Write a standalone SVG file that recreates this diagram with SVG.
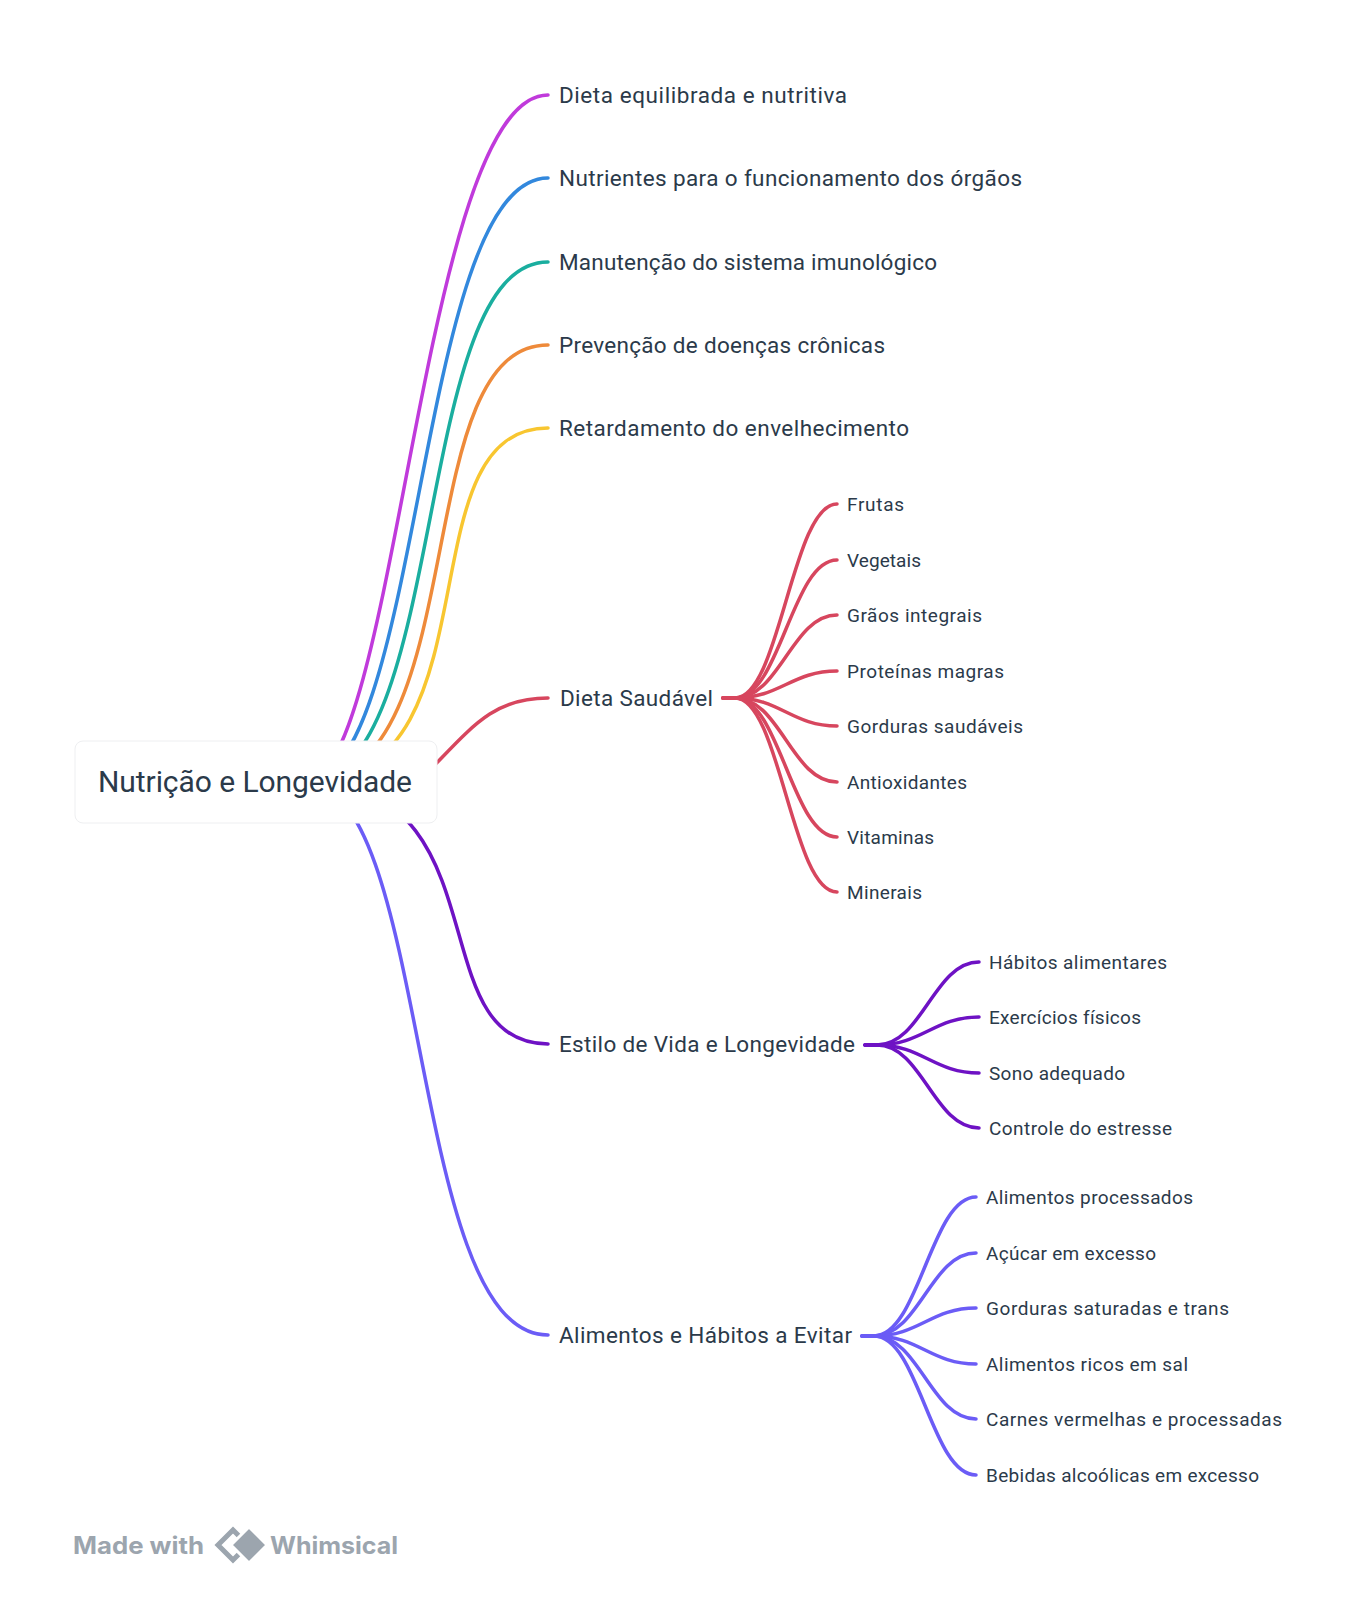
<svg xmlns="http://www.w3.org/2000/svg" width="1368" height="1600" viewBox="0 0 1368 1600">
<style>
.c{fill:none;stroke-width:3.5;stroke-linecap:round;stroke-linejoin:round}
.t{font-family:Roboto,"Noto Sans",sans-serif;fill:#2B3A4A}
.root{font-size:30px}
.m{font-size:22.5px}
.s{font-size:19px}
.logo{font-family:Inter,"Liberation Sans",sans-serif;font-weight:700;font-size:24px;fill:#9CA5AE}
</style>
<rect width="1368" height="1600" fill="#ffffff"/>
<g id="connectors">
<path class="c" stroke="#C03ADB" d="M305 782 C397.5 782 421 95 548 95"/>
<path class="c" stroke="#3288DD" d="M305 782 C423.5 782 416 178 548 178"/>
<path class="c" stroke="#1AAE9F" d="M305 782 C450 782 410.5 262 548 262"/>
<path class="c" stroke="#EE8A3A" d="M305 782 C476.5 782 405.25 345 548 345"/>
<path class="c" stroke="#F8C630" d="M305 782 C503 782 400 428 548 428"/>
<path class="c" stroke="#D7465E" d="M420 780 C470 730 490 698 548 698"/>
<path class="c" stroke="#6E12C4" d="M305 782 C505 782 418 1044 548 1044"/>
<path class="c" stroke="#6B5CF6" d="M305 782 C432 782 407 1335 548 1335"/>
<g stroke="#D7465E">
<path class="c" d="M723 698 H735 C780 698 792 504 837 504"/>
<path class="c" d="M723 698 H735 C780 698 792 560 837 560"/>
<path class="c" d="M723 698 H735 C780 698 792 615 837 615"/>
<path class="c" d="M723 698 H735 C780 698 792 671 837 671"/>
<path class="c" d="M723 698 H735 C780 698 792 726 837 726"/>
<path class="c" d="M723 698 H735 C780 698 792 782 837 782"/>
<path class="c" d="M723 698 H735 C780 698 792 837 837 837"/>
<path class="c" d="M723 698 H735 C780 698 792 892 837 892"/>
</g>
<g stroke="#6E12C4">
<path class="c" d="M865 1045 H877 C922 1045 934 962 979 962"/>
<path class="c" d="M865 1045 H877 C922 1045 934 1017 979 1017"/>
<path class="c" d="M865 1045 H877 C922 1045 934 1073 979 1073"/>
<path class="c" d="M865 1045 H877 C922 1045 934 1128 979 1128"/>
</g>
<g stroke="#6B5CF6">
<path class="c" d="M862 1336 H874 C919 1336 931 1197 976 1197"/>
<path class="c" d="M862 1336 H874 C919 1336 931 1253 976 1253"/>
<path class="c" d="M862 1336 H874 C919 1336 931 1308 976 1308"/>
<path class="c" d="M862 1336 H874 C919 1336 931 1364 976 1364"/>
<path class="c" d="M862 1336 H874 C919 1336 931 1419 976 1419"/>
<path class="c" d="M862 1336 H874 C919 1336 931 1475 976 1475"/>
</g>
</g>
<g id="root">
<rect x="75" y="741" width="362" height="82" rx="8" fill="#ffffff" stroke="#eeeff1" stroke-width="1"/>
<text class="t root" x="98" y="792" textLength="314" lengthAdjust="spacing">Nutrição e Longevidade</text>
</g>
<g id="n-dieta-equilibrada"><text class="t m" x="559" y="103" textLength="288" lengthAdjust="spacing">Dieta equilibrada e nutritiva</text></g>
<g id="n-nutrientes"><text class="t m" x="559" y="186" textLength="463" lengthAdjust="spacing">Nutrientes para o funcionamento dos órgãos</text></g>
<g id="n-manutencao"><text class="t m" x="559" y="270" textLength="378" lengthAdjust="spacing">Manutenção do sistema imunológico</text></g>
<g id="n-prevencao"><text class="t m" x="559" y="353" textLength="326" lengthAdjust="spacing">Prevenção de doenças crônicas</text></g>
<g id="n-retardamento"><text class="t m" x="559" y="436" textLength="350" lengthAdjust="spacing">Retardamento do envelhecimento</text></g>
<g id="n-dieta-saudavel"><text class="t m" x="560" y="706" textLength="153" lengthAdjust="spacing">Dieta Saudável</text></g>
<g id="n-estilo"><text class="t m" x="559" y="1052" textLength="296" lengthAdjust="spacing">Estilo de Vida e Longevidade</text></g>
<g id="n-evitar"><text class="t m" x="559" y="1343" textLength="293" lengthAdjust="spacing">Alimentos e Hábitos a Evitar</text></g>
<g id="n-frutas"><text class="t s" x="847" y="511" textLength="57" lengthAdjust="spacing">Frutas</text></g>
<g id="n-vegetais"><text class="t s" x="847" y="567" textLength="74" lengthAdjust="spacing">Vegetais</text></g>
<g id="n-graos"><text class="t s" x="847" y="622" textLength="135" lengthAdjust="spacing">Grãos integrais</text></g>
<g id="n-proteinas"><text class="t s" x="847" y="678" textLength="157" lengthAdjust="spacing">Proteínas magras</text></g>
<g id="n-gorduras-saudaveis"><text class="t s" x="847" y="733" textLength="176" lengthAdjust="spacing">Gorduras saudáveis</text></g>
<g id="n-antioxidantes"><text class="t s" x="847" y="789" textLength="120" lengthAdjust="spacing">Antioxidantes</text></g>
<g id="n-vitaminas"><text class="t s" x="847" y="844" textLength="87" lengthAdjust="spacing">Vitaminas</text></g>
<g id="n-minerais"><text class="t s" x="847" y="899" textLength="75" lengthAdjust="spacing">Minerais</text></g>
<g id="n-habitos"><text class="t s" x="989" y="969" textLength="178" lengthAdjust="spacing">Hábitos alimentares</text></g>
<g id="n-exercicios"><text class="t s" x="989" y="1024" textLength="152" lengthAdjust="spacing">Exercícios físicos</text></g>
<g id="n-sono"><text class="t s" x="989" y="1080" textLength="136" lengthAdjust="spacing">Sono adequado</text></g>
<g id="n-controle"><text class="t s" x="989" y="1135" textLength="183" lengthAdjust="spacing">Controle do estresse</text></g>
<g id="n-processados"><text class="t s" x="986" y="1204" textLength="207" lengthAdjust="spacing">Alimentos processados</text></g>
<g id="n-acucar"><text class="t s" x="986" y="1260" textLength="170" lengthAdjust="spacing">Açúcar em excesso</text></g>
<g id="n-gorduras-saturadas"><text class="t s" x="986" y="1315" textLength="243" lengthAdjust="spacing">Gorduras saturadas e trans</text></g>
<g id="n-sal"><text class="t s" x="986" y="1371" textLength="202" lengthAdjust="spacing">Alimentos ricos em sal</text></g>
<g id="n-carnes"><text class="t s" x="986" y="1426" textLength="296" lengthAdjust="spacing">Carnes vermelhas e processadas</text></g>
<g id="n-bebidas"><text class="t s" x="986" y="1482" textLength="273" lengthAdjust="spacing">Bebidas alcoólicas em excesso</text></g>
<g id="watermark">
<text class="logo" x="73" y="1554" textLength="131" lengthAdjust="spacingAndGlyphs">Made with</text>
<path d="M233 1530 L248 1545 L233 1560 L218 1545 Z" fill="none" stroke="#9CA5AE" stroke-width="5" stroke-linejoin="miter"/>
<path d="M249 1527 L267 1545 L249 1563 L231 1545 Z" fill="#9CA5AE" stroke="#ffffff" stroke-width="3"/>
<text class="logo" x="270" y="1554" textLength="128" lengthAdjust="spacingAndGlyphs">Whimsical</text>
</g>
</svg>
